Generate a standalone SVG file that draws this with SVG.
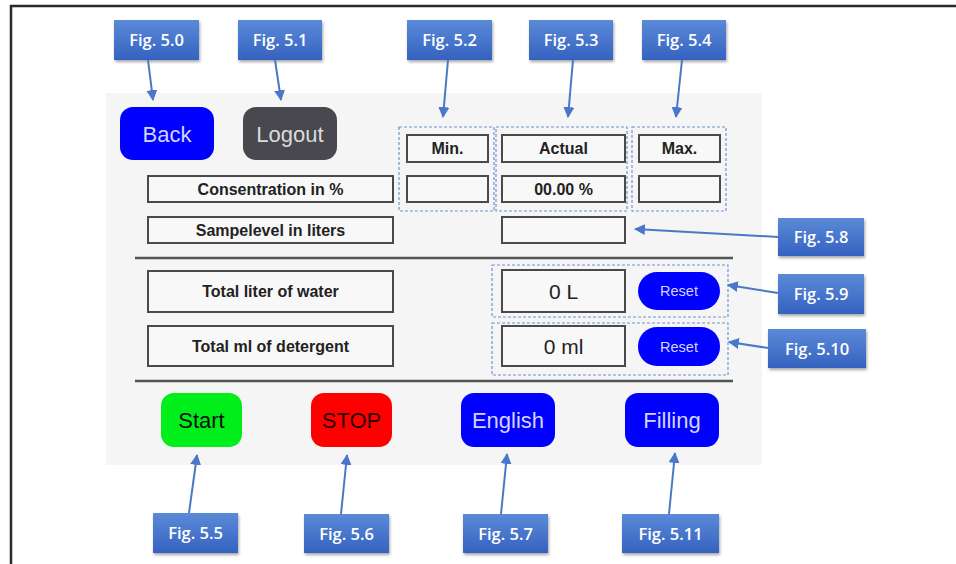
<svg xmlns="http://www.w3.org/2000/svg" width="956" height="564" viewBox="0 0 956 564">
<style>
.fig rect{fill:url(#fg);filter:url(#sh)}
.fig text{fill:#fff;font-family:"Open Sans","Noto Sans",sans-serif;font-size:16.5px;font-weight:600;text-anchor:middle}
.fld{fill:#f8f8f8;stroke:#4a4a4a;stroke-width:2}
.lbl{font-family:"Liberation Sans",Arial,sans-serif;font-weight:bold;font-size:16px;fill:#222;text-anchor:middle}
.val{font-family:"Liberation Sans",Arial,sans-serif;font-size:21px;fill:#222;text-anchor:middle}
.btn{font-family:"Liberation Sans",Arial,sans-serif;font-size:22px;text-anchor:middle}
.grp{fill:none;stroke:#6f93d8;stroke-width:1.2;stroke-dasharray:3 2}
.sep{stroke:#555;stroke-width:2.5}
#connectors line{stroke:#4a78c8;stroke-width:2;marker-end:url(#ah)}
</style>
<defs>
<linearGradient id="fg" x1="0" y1="0" x2="0" y2="1">
<stop offset="0" stop-color="#5b8ad8"/>
<stop offset="1" stop-color="#3562c0"/>
</linearGradient>
<filter id="sh" x="-20%" y="-20%" width="140%" height="150%">
<feDropShadow dx="1" dy="2" stdDeviation="1.5" flood-color="#000" flood-opacity="0.35"/>
</filter>
<marker id="ah" viewBox="0 0 10 10" refX="9" refY="5" markerWidth="5.5" markerHeight="5.5" orient="auto">
<path d="M0,0 L10,5 L0,10 z" fill="#4a78c8"/>
</marker>
</defs>
<rect x="0" y="0" width="956" height="564" fill="#fff"/>
<path d="M11,564 V6 H956" fill="none" stroke="#2a2a2a" stroke-width="2.5"/>
<rect x="106" y="93" width="656" height="372" fill="#f5f5f5"/>

<g id="back"><rect x="120" y="107" width="94" height="53" rx="13" fill="#0000ff"/><text class="btn" x="167" y="141.5" fill="#d4d4ff">Back</text></g>
<g id="logout"><rect x="243" y="107" width="94" height="53" rx="13" fill="#48484e"/><text class="btn" x="290" y="141.5" fill="#dcdcdc">Logout</text></g>

<g id="min"><rect class="grp" x="399" y="127" width="95" height="84"/><rect class="fld" x="407" y="135" width="81" height="27"/><text class="lbl" x="447.5" y="154">Min.</text><rect class="fld" x="407" y="176" width="81" height="26"/></g>
<g id="actual"><rect class="grp" x="496" y="127" width="131" height="84"/><rect class="fld" x="502" y="135" width="123" height="27"/><text class="lbl" x="563.5" y="154">Actual</text><rect class="fld" x="502" y="176" width="123" height="26"/><text class="lbl" x="563.5" y="194.5">00.00 %</text></g>
<g id="max"><rect class="grp" x="632" y="127" width="94" height="84"/><rect class="fld" x="639" y="135" width="81" height="27"/><text class="lbl" x="679.5" y="154">Max.</text><rect class="fld" x="639" y="176" width="81" height="26"/></g>

<g id="consentration"><rect class="fld" x="148" y="176" width="245" height="26"/><text class="lbl" x="270.5" y="194.5">Consentration in %</text></g>
<g id="sampelevel"><rect class="fld" x="148" y="217" width="245" height="26"/><text class="lbl" x="270.5" y="235.5">Sampelevel in liters</text><rect class="fld" x="502" y="217" width="123" height="26"/></g>
<line class="sep" x1="135" y1="258" x2="733" y2="258"/>

<g id="water"><rect class="fld" x="148" y="271" width="245" height="41"/><text class="lbl" x="270.5" y="297">Total liter of water</text>
<rect class="grp" x="492" y="265" width="236" height="52"/><rect class="fld" x="502" y="270" width="123" height="42"/><text class="val" x="563.5" y="298.5">0 L</text>
<rect x="638" y="272" width="82" height="38" rx="19" fill="#0000ff"/><text x="679" y="296" fill="#d4d4ff" font-family="Liberation Sans,Arial,sans-serif" font-size="14.5" text-anchor="middle">Reset</text></g>
<g id="detergent"><rect class="fld" x="148" y="326" width="245" height="40"/><text class="lbl" x="270.5" y="351.5">Total ml of detergent</text>
<rect class="grp" x="492" y="323" width="236" height="52"/><rect class="fld" x="502" y="326" width="123" height="40"/><text class="val" x="563.5" y="353.5">0 ml</text>
<rect x="638" y="327" width="82" height="39" rx="19" fill="#0000ff"/><text x="679" y="351.5" fill="#d4d4ff" font-family="Liberation Sans,Arial,sans-serif" font-size="14.5" text-anchor="middle">Reset</text></g>
<line class="sep" x1="135" y1="381" x2="733" y2="381"/>

<g id="start"><rect x="161" y="393" width="81" height="54" rx="13" fill="#00ee1a"/><text class="btn" x="201.5" y="428" fill="#111">Start</text></g>
<g id="stop"><rect x="311" y="393" width="81" height="54" rx="13" fill="#ff0000"/><text class="btn" x="351.5" y="428" fill="#2a0000">STOP</text></g>
<g id="english"><rect x="461" y="393" width="94" height="54" rx="13" fill="#0000ff"/><text class="btn" x="508" y="428" fill="#d4d4ff">English</text></g>
<g id="filling"><rect x="625" y="393" width="94" height="54" rx="13" fill="#0000ff"/><text class="btn" x="672" y="428" fill="#d4d4ff">Filling</text></g>

<g id="fig50" class="fig"><rect x="114" y="20" width="85" height="40"/><text x="156.5" y="46">Fig. 5.0</text></g>
<g id="fig51" class="fig"><rect x="238" y="20" width="84" height="40"/><text x="280" y="46">Fig. 5.1</text></g>
<g id="fig52" class="fig"><rect x="407" y="20" width="85" height="40"/><text x="449.5" y="46">Fig. 5.2</text></g>
<g id="fig53" class="fig"><rect x="529" y="20" width="84" height="40"/><text x="571" y="46">Fig. 5.3</text></g>
<g id="fig54" class="fig"><rect x="642" y="20" width="84" height="40"/><text x="684" y="46">Fig. 5.4</text></g>
<g id="fig58" class="fig"><rect x="778" y="218" width="86" height="38"/><text x="821" y="243">Fig. 5.8</text></g>
<g id="fig59" class="fig"><rect x="778" y="274" width="86" height="40"/><text x="821" y="300">Fig. 5.9</text></g>
<g id="fig510" class="fig"><rect x="768" y="329" width="98" height="39"/><text x="817" y="355">Fig. 5.10</text></g>
<g id="fig55" class="fig"><rect x="153" y="513" width="85" height="40"/><text x="195.5" y="539">Fig. 5.5</text></g>
<g id="fig56" class="fig"><rect x="304" y="514" width="85" height="39"/><text x="346.5" y="540">Fig. 5.6</text></g>
<g id="fig57" class="fig"><rect x="463" y="514" width="85" height="39"/><text x="505.5" y="540">Fig. 5.7</text></g>
<g id="fig511" class="fig"><rect x="622" y="514" width="97" height="39"/><text x="670.5" y="540">Fig. 5.11</text></g>

<g id="connectors">
<line x1="148" y1="60" x2="153" y2="100"/>
<line x1="275" y1="60" x2="281" y2="100"/>
<line x1="448" y1="60" x2="443" y2="117"/>
<line x1="573" y1="60" x2="568" y2="117"/>
<line x1="682" y1="60" x2="676" y2="117"/>
<line x1="778" y1="237" x2="635" y2="229"/>
<line x1="778" y1="293" x2="728" y2="285"/>
<line x1="768" y1="348" x2="729" y2="342"/>
<line x1="189" y1="513" x2="197" y2="455"/>
<line x1="341" y1="514" x2="347" y2="455"/>
<line x1="501" y1="514" x2="507" y2="454"/>
<line x1="669" y1="514" x2="675" y2="453"/>
</g>
</svg>
